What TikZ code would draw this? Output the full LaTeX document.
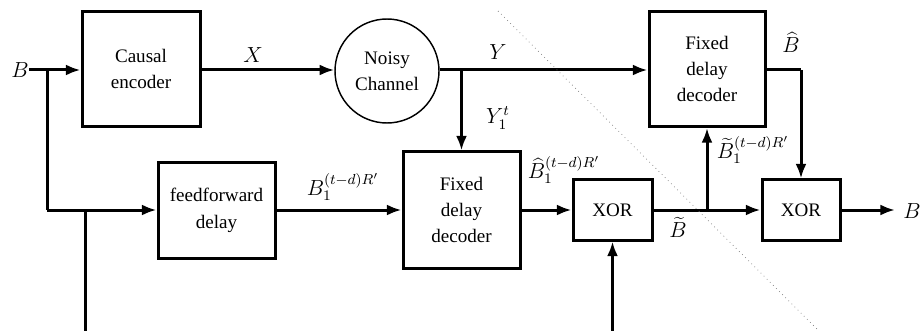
\documentclass[tikz,border=0pt]{standalone}
\usepackage[no-math]{fontspec}
\setmainfont{Liberation Serif}
\usetikzlibrary{arrows.meta}
\begin{document}
\begin{tikzpicture}[x=0.55pt,y=-0.55pt,
  blk/.style={draw,line width=1.65pt,minimum width=#1*0.55pt,inner sep=0pt,align=center,font=\fontsize{10.5}{14.5}\selectfont},
  wire/.style={line width=1.65pt},
  arr/.style={wire,-{Latex[length=8pt,width=6pt]}},
  lbl/.style={inner sep=0pt,font=\large}]
\useasboundingbox (0,0) rectangle (922,331);
% boxes
\node[blk=118,minimum height=115*0.55pt] (enc) at (141,69) {Causal\\encoder};
\node[draw,circle,line width=0.8pt,minimum size=104*0.55pt,inner sep=0pt,align=center,font=\fontsize{10.5}{14.5}\selectfont] (chan) at (387,71) {Noisy\\Channel};
\node[blk=116,minimum height=115*0.55pt] (dec1) at (707,69) {Fixed\\delay\\decoder};
\node[blk=117,minimum height=95*0.55pt] (ff) at (216.5,210.5) {feedforward\\delay};
\node[blk=117,minimum height=116*0.55pt] (dec2) at (461.5,210) {Fixed\\delay\\decoder};
\node[blk=79,minimum height=60*0.55pt] (xor1) at (612.5,210) {XOR};
\node[blk=78,minimum height=60*0.55pt] (xor2) at (801,210) {XOR};
% coordinates
\node[lbl,anchor=east] (Bin) at (29,70) {$B$};
\coordinate (s1) at (47,70);
\coordinate (s1b) at (47,210);
\coordinate (s2) at (85,210);
\coordinate (bot1) at (85,331);
\coordinate (bot2) at (612.5,331);
\coordinate (ys) at (461.5,70);
\coordinate (bs) at (707,210);
\coordinate (bc) at (801,70);
\coordinate (bo) at (895,210);
\node[lbl,anchor=west] (Bout) at (903,211) {$B$};
% wires
\draw[arr] (Bin.east) -- (enc.west |- s1);
\draw[wire] (s1) -- (s1b);
\draw[arr] (s1b) -- (ff.west |- s1b);
\draw[wire] (s2) -- (bot1);
\draw[arr] (enc.east |- s1) -- (chan.west |- s1);
\draw[wire] (chan.east |- s1) -- (ys);
\draw[arr] (ys) -- (dec1.west |- ys);
\draw[arr] (ys) -- (dec2.north);
\draw[arr] (ff.east |- s2) -- (dec2.west);
\draw[arr] (dec2.east) -- (xor1.west);
\draw[arr] (bot2) -- (xor1.south);
\draw[arr] (xor1.east) -- (xor2.west);
\draw[arr] (bs) -- (dec1.south);
\draw[wire] (dec1.east |- bc) -- (bc);
\draw[arr] (bc) -- (xor2.north);
\draw[arr] (xor2.east) -- (bo);
% labels
\node[lbl] (lX) at (253,55) {$X$};
\node[lbl] (lY) at (498,52) {$Y$};
\node[lbl] (lYt) at (498,118) {$Y_1^t$};
\node[lbl] (lBh) at (791,42) {$\widehat{B}$};
\node[lbl] (lB1) at (343,187) {$B_1^{(t-d)R'}$};
\node[lbl] (lBh1) at (564,170) {$\widehat{B}_1^{(t-d)R'}$};
\node[lbl] (lBt1) at (753,150) {$\widetilde{B}_1^{(t-d)R'}$};
\node[lbl] (lBt) at (678,227) {$\widetilde{B}$};
% dotted diagonal
\draw[gray,line width=0.4pt,dotted] (498,11) -- (818,330);
\end{tikzpicture}
\end{document}
